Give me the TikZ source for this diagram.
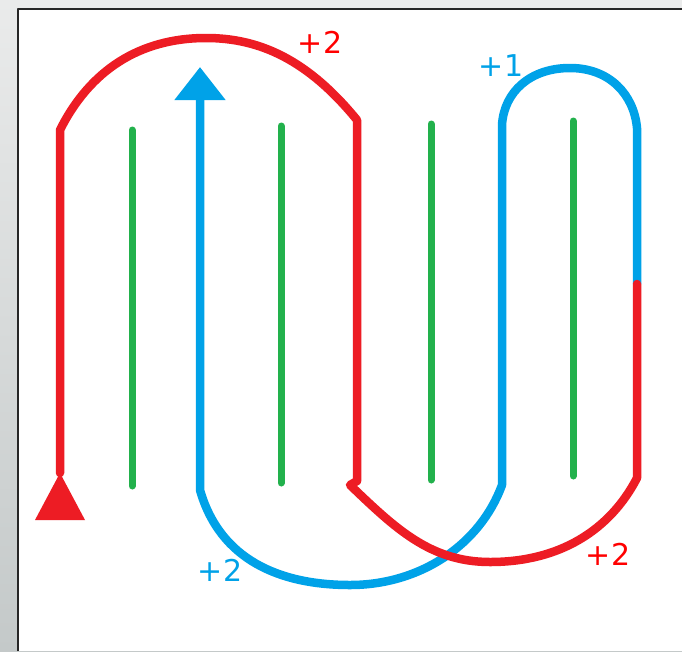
\documentclass[tikz,border=0pt]{standalone}
\usepackage{fontspec}
\setmainfont{DejaVu Sans}
\usetikzlibrary{arrows.meta}
\definecolor{pathred}{RGB}{237,28,36}
\definecolor{pathblue}{RGB}{0,162,232}
\definecolor{rowgreen}{RGB}{34,177,76}
\definecolor{labelred}{RGB}{255,0,0}
\definecolor{framelight}{RGB}{234,235,235}
\definecolor{framedark}{RGB}{196,201,201}

\begin{document}
\begin{tikzpicture}[x=1pt, y=-1pt, line join=round,
  redpath/.style={draw=pathred, line width=8.5pt, line cap=round},
  bluepath/.style={draw=pathblue, line width=8.5pt},
  row/.style={draw=rowgreen, line width=7pt, line cap=round},
  gain/.style={font=\fontsize{30}{30}\selectfont, inner sep=0pt}]
  \useasboundingbox (0,0) rectangle (682,651);
  \shade[top color=framelight, bottom color=framedark] (0,0) rectangle (682,651);
  \fill[white] (18,9) rectangle (682,651);
  \draw[line width=2.5pt, black!85] (18,651) -- (18,9) -- (682,9);
  % green rows
  \foreach \x/\t/\b in {132/130/486, 281/126/483, 431/124/480, 573/121/476}{
    \draw[row] (\x,\t) -- (\x,\b);
  }
  % turning points
  \coordinate (rA) at (60,473);
  \coordinate (rB) at (60,130);
  \coordinate (rC) at (357,120);
  \coordinate (rD) at (357,481);
  \coordinate (rE) at (350,485);
  \coordinate (rF) at (637,478);
  \coordinate (sw) at (637,284);
  \coordinate (bA) at (637,128);
  \coordinate (bB) at (502,125);
  \coordinate (bC) at (502,485);
  \coordinate (bD) at (200,490);
  \coordinate (bE) at (200,67);
  % blue part
  \draw[bluepath, -{Triangle[length=33pt,width=49pt]}] (sw) -- (bA)
    .. controls (634,95) and (610,68) .. (570,68)
    .. controls (530,68) and (504,92) .. (bB) -- (bC)
    .. controls (480,545) and (420,585) .. (350,585)
    .. controls (280,585) and (220,560) .. (bD) -- (bE);
  % red part
  \draw[redpath] (rA) -- (rB)
    .. controls (90,70) and (140,38) .. (206,38)
    .. controls (260,38) and (308,60) .. (rC) -- (rD) -- (rE)
    .. controls (395,528) and (430,562) .. (490,562)
    .. controls (560,562) and (610,530) .. (rF) -- (sw);
  \fill[pathred] (rA) -- ++(-25,47) -- ++(50,0) -- cycle;
  % gains
  \node[gain, text=labelred] (gainA) at (320,42) {+2};
  \node[gain, text=pathblue] (gainB) at (501,66) {+1};
  \node[gain, text=pathblue] (gainC) at (220,570) {+2};
  \node[gain, text=labelred] (gainD) at (608,554) {+2};
\end{tikzpicture}
\end{document}
